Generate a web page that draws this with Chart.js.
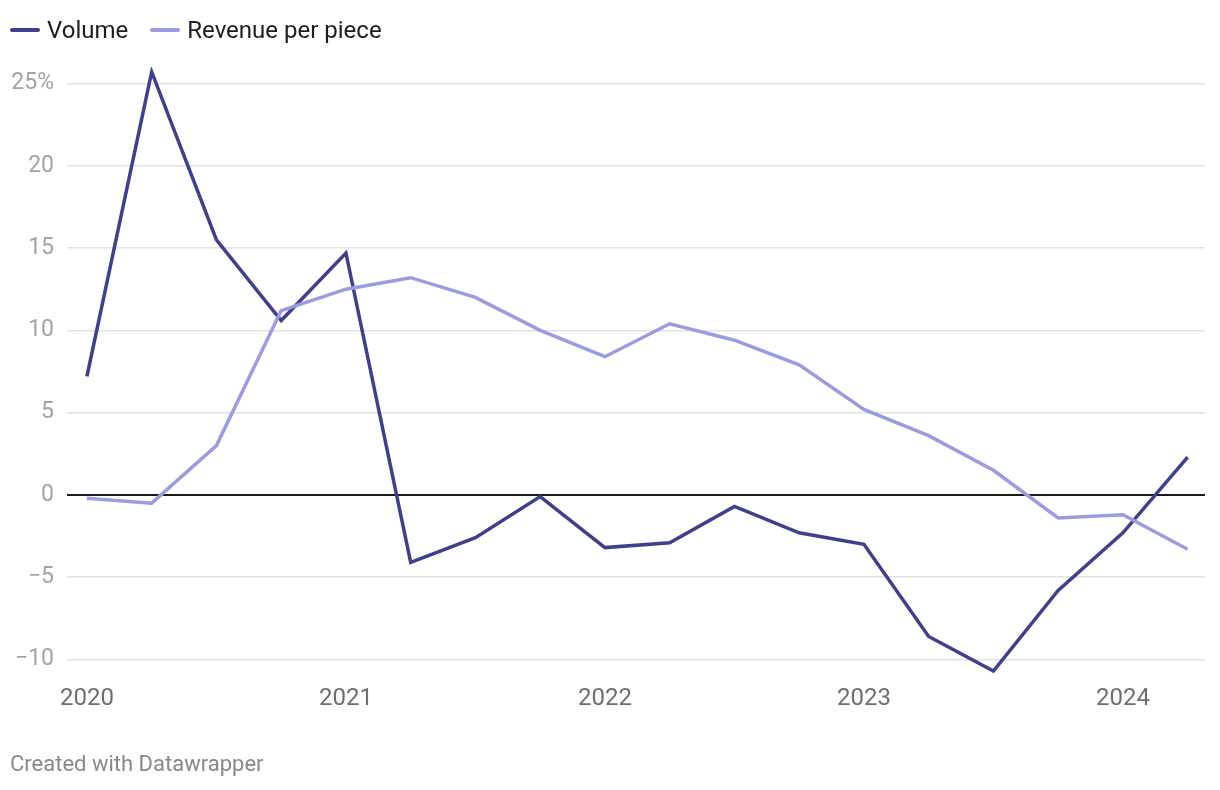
<!DOCTYPE html>
<html>
<head>
<meta charset="utf-8">
<script src="https://cdn.jsdelivr.net/npm/chart.js@4"></script>
<style>
  html, body { margin: 0; padding: 0; background: #fff; }
  body { width: 1220px; height: 790px; position: relative; overflow: hidden; font-family: Roboto, sans-serif; }
  #wrap { position: absolute; left: 0; top: 0; width: 1220px; height: 790px; }
  .legend { position: absolute; left: 10px; top: 16px; display: flex; align-items: center; font-size: 24px; color: #1d1d1d; }
  .legend .item { display: flex; align-items: center; margin-right: 22px; }
  .legend .swatch { width: 30px; height: 4px; border-radius: 2px; margin-right: 7px; }
  .footer { position: absolute; left: 10px; top: 751px; font-size: 22px; color: #888; }
</style>
</head>
<body>
<div id="wrap"><canvas id="chart" width="1220" height="790"></canvas></div>
<div class="legend">
  <div class="item"><span class="swatch" style="background:#3f3f8f"></span>Volume</div>
  <div class="item"><span class="swatch" style="background:#9b9be3"></span>Revenue per piece</div>
</div>
<div class="footer">Created with Datawrapper</div>
<script>
// quarters 2020 Q1 .. 2024 Q2 (as fractional years)
const quarters = [2020, 2020.25, 2020.5, 2020.75, 2021, 2021.25, 2021.5, 2021.75,
  2022, 2022.25, 2022.5, 2022.75, 2023, 2023.25, 2023.5, 2023.75, 2024, 2024.25];
const volume = [7.2, 25.7, 15.5, 10.6, 14.7, -4.1, -2.6, -0.1, -3.2, -2.9, -0.7, -2.3,
  -3.0, -8.6, -10.7, -5.8, -2.3, 2.3];
const revenuePerPiece = [-0.2, -0.5, 3.0, 11.2, 12.5, 13.2, 12.0, 10.0, 8.4, 10.4, 9.4, 7.9,
  5.2, 3.6, 1.5, -1.4, -1.2, -3.3];
const xTicks = [2020, 2021, 2022, 2023, 2024];
const yTicks = [-10, -5, 0, 5, 10, 15, 20, 25];

const toPoints = vals => vals.map((v, i) => ({ x: quarters[i], y: v }));

const ctx = document.getElementById('chart').getContext('2d');
const chart = new Chart(ctx, {
  type: 'line',
  data: {
    datasets: [
      {
        label: 'Revenue per piece',
        data: toPoints(revenuePerPiece),
        borderColor: '#9b9be3',
        borderWidth: 3.5,
        pointRadius: 0,
        tension: 0
      },
      {
        label: 'Volume',
        data: toPoints(volume),
        borderColor: '#3f3f8f',
        borderWidth: 3.5,
        pointRadius: 0,
        tension: 0
      }
    ]
  },
  options: {
    responsive: false,
    animation: false,
    layout: { padding: { left: 0, right: 15, top: 67, bottom: 0 } },
    scales: {
      x: {
        type: 'linear',
        min: 2019.923,
        max: 2024.317,
        afterBuildTicks: axis => { axis.ticks = xTicks.map(v => ({ value: v })); },
        afterFit: axis => { axis.height = 114; },
        grid: { display: false, drawTicks: false },
        border: { display: false },
        ticks: {
          padding: 9,
          color: '#6e6e6e',
          font: { family: 'Roboto', size: 24 },
          maxRotation: 0,
          callback: v => String(v)
        }
      },
      y: {
        min: -11,
        max: 26,
        afterBuildTicks: axis => { axis.ticks = yTicks.map(v => ({ value: v })); },
        afterFit: axis => { axis.width = 67; },
        grid: {
          drawTicks: false,
          color: c => c.tick && c.tick.value === 0 ? '#1a1a1a' : '#e2e2e2',
          lineWidth: c => c.tick && c.tick.value === 0 ? 2 : 1.5
        },
        border: { display: false },
        ticks: {
          padding: 13,
          color: '#a3a3a3',
          font: { family: 'Roboto', size: 23 },
          callback: v => v === 25 ? '25%' : (v < 0 ? '\u2212' + Math.abs(v) : String(v))
        }
      }
    },
    plugins: {
      legend: { display: false },
      tooltip: { enabled: false }
    }
  }
});
</script>
</body>
</html>
